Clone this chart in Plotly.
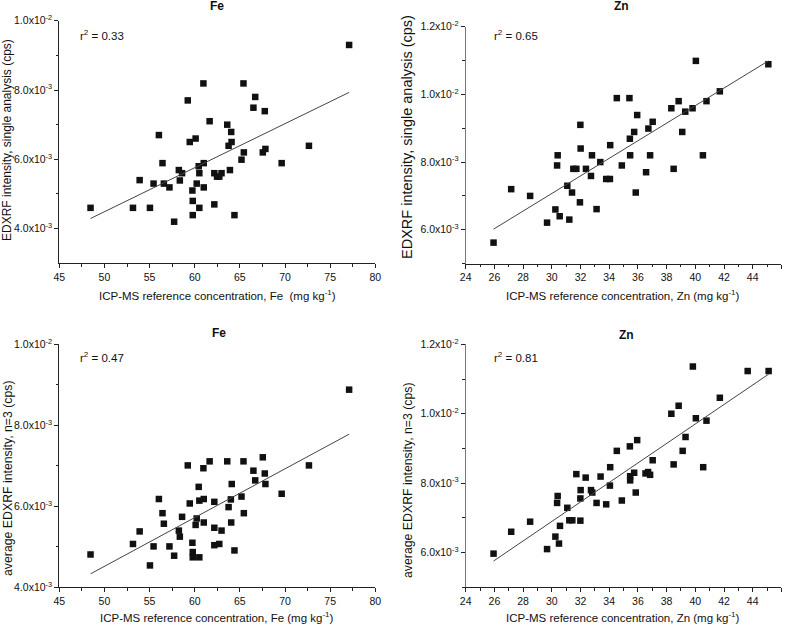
import numpy as np
import plotly.graph_objects as go

# ---------------- data (values in 1e-3 cps) ----------------
fe_x_single = [48.46, 53.16, 53.9, 55.04, 55.44, 56.03, 56.43, 56.58, 57.2, 57.72, 58.24, 58.35, 58.6,
               59.23, 59.45, 59.74, 59.78, 59.78, 60.1, 60.22, 60.44, 60.51, 60.51, 60.96, 61.0, 61.0,
               61.65, 62.17, 62.17, 62.47, 62.72, 62.97, 63.6, 63.75, 63.9, 64.04, 64.08, 64.4, 65.18,
               65.4, 65.44, 66.5, 66.7, 67.54, 67.76, 67.83, 69.63, 72.65, 77.1]
fe_y_single = [4.60, 4.60, 5.40, 4.60, 5.30, 6.70, 5.89, 5.30, 5.19, 4.20, 5.69, 5.39, 5.60,
               7.70, 6.50, 5.10, 4.80, 4.39, 6.60, 5.30, 5.80, 5.60, 4.60, 8.19, 5.89, 5.19,
               7.10, 4.70, 5.60, 5.50, 5.50, 5.60, 7.00, 6.39, 5.69, 6.79, 6.50, 4.39, 5.99,
               8.19, 6.20, 7.49, 7.80, 6.20, 7.39, 6.30, 5.89, 6.39, 9.30]

fe_x_avg = [48.46, 53.16, 53.9, 55.04, 55.44, 56.03, 56.43, 56.58, 57.2, 57.72, 58.24, 58.35, 58.6,
            59.23, 59.45, 59.74, 59.78, 59.78, 60.1, 60.22, 60.44, 60.51, 60.51, 60.96, 61.0, 61.0,
            61.65, 62.17, 62.17, 62.17, 62.72, 62.97, 63.6, 63.75, 64.0, 64.04, 64.1, 64.4, 65.18,
            65.4, 65.44, 66.5, 66.7, 67.54, 67.76, 67.83, 69.63, 72.65, 77.1]
fe_y_avg = [4.81, 5.07, 5.38, 4.54, 5.01, 6.18, 5.83, 5.57, 5.01, 4.78, 5.40, 5.25, 5.74,
            7.01, 6.07, 5.10, 4.87, 4.74, 5.54, 5.70, 6.48, 6.14, 4.74, 6.94, 6.18, 5.60,
            7.11, 5.47, 5.04, 6.11, 5.07, 5.40, 7.11, 5.98, 6.17, 5.60, 6.55, 4.91, 6.24,
            7.11, 5.83, 6.88, 6.64, 7.21, 6.81, 6.55, 6.31, 7.01, 8.88]

zn_x_single = [25.94, 27.17, 28.49, 29.67, 30.25, 30.37, 30.41, 30.55, 31.08, 31.22, 31.41, 31.5,
               31.71, 31.99, 32.01, 31.96, 32.38, 32.73, 32.8, 33.12, 33.38, 33.79, 34.05, 34.07,
               34.53, 34.88, 35.41, 35.44, 35.46, 35.74, 35.85, 35.95, 36.57, 36.73, 36.85, 37.03,
               38.33, 38.49, 38.84, 39.09, 39.3, 39.81, 40.04, 40.53, 40.78, 41.71, 43.65, 45.09]
zn_y_single = [5.62, 7.20, 7.00, 6.21, 6.60, 7.90, 8.20, 6.40, 7.30, 6.30, 7.10, 7.80,
               7.80, 9.10, 8.40, 6.81, 7.80, 7.59, 8.20, 6.61, 8.00, 7.50, 7.50, 8.50,
               9.89, 7.90, 9.89, 8.69, 8.20, 8.89, 7.10, 9.39, 7.70, 8.99, 8.20, 9.19,
               9.59, 7.80, 9.80, 8.89, 9.49, 9.59, 10.99, 8.20, 9.80, 10.09, 12.08, 10.89]

zn_x_avg = [25.94, 27.17, 28.49, 29.67, 30.25, 30.37, 30.41, 30.5, 30.57, 31.08, 31.22, 31.43,
            31.71, 31.99, 32.01, 31.99, 32.36, 32.73, 32.82, 33.12, 33.4, 33.79, 34.05, 34.07,
            34.53, 34.88, 35.44, 35.46, 35.46, 35.74, 35.85, 35.95, 36.53, 36.71, 36.85, 37.03,
            38.33, 38.49, 38.84, 39.12, 39.32, 39.83, 40.04, 40.55, 40.78, 41.71, 43.65, 45.11]
zn_y_avg = [5.97, 6.60, 6.89, 6.10, 6.46, 7.43, 7.63, 6.26, 6.77, 7.29, 6.93, 6.93,
            8.26, 6.92, 7.80, 7.56, 8.16, 7.80, 7.73, 7.43, 8.19, 7.39, 7.93, 8.46,
            8.93, 7.50, 9.06, 8.20, 8.08, 8.30, 7.73, 9.24, 8.28, 8.32, 8.24, 8.66,
            10.00, 8.54, 10.23, 8.93, 9.33, 11.36, 9.87, 8.46, 9.80, 10.46, 11.23, 11.23]

r2_labels = ["0.33", "0.65", "0.47", "0.81"]
panel_titles = ["Fe", "Zn", "Fe", "Zn"]
x_titles = ["ICP-MS reference concentration, Fe\u00a0 (mg kg<sup>-1</sup>)",
            "ICP-MS reference concentration, Zn (mg kg<sup>-1</sup>)",
            "ICP-MS reference concentration, Fe (mg kg<sup>-1</sup>)",
            "ICP-MS reference concentration, Zn (mg kg<sup>-1</sup>)"]
y_titles = ["EDXRF intensity, single analysis (cps)",
            "EDXRF intensity, single analysis (cps)",
            "average EDXRF intensity, n=3 (cps)",
            "average EDXRF intensity, n=3 (cps)"]

fe_xticks = [45, 50, 55, 60, 65, 70, 75, 80]
fe_xminor = [47.5, 52.5, 57.5, 62.5, 67.5, 72.5, 77.5]
zn_xticks = [24, 26, 28, 30, 32, 34, 36, 38, 40, 42, 44, 46]
zn_xminor = [25, 27, 29, 31, 33, 35, 37, 39, 41, 43, 45]
fe_yticks = [4.0e-3, 6.0e-3, 8.0e-3, 1.0e-2]
fe_yticktext = ["4.0x10<sup>-3</sup>", "6.0x10<sup>-3</sup>", "8.0x10<sup>-3</sup>", "1.0x10<sup>-2</sup>"]
fe_yminor = [5e-3, 7e-3, 9e-3]
zn_yticks = [6.0e-3, 8.0e-3, 1.0e-2, 1.2e-2]
zn_yticktext = ["6.0x10<sup>-3</sup>", "8.0x10<sup>-3</sup>", "1.0x10<sup>-2</sup>", "1.2x10<sup>-2</sup>"]
zn_yminor = [5e-3, 7e-3, 9e-3, 1.1e-2]

# ---------------- layout geometry (pixels in the 787x627 canvas) ----------------
W, H = 787, 627
FONT = "Arial, Liberation Sans, sans-serif"
AX = "#222222"
TXT = "#111111"

panels = [
    dict(x=fe_x_single, y=fe_y_single, px=(59.3, 375.3), py=(20.7, 263.3), xr=[45, 80], yr=[3e-3, 10e-3],
         xt=fe_xticks, xm=fe_xminor, yt=fe_yticks, ytt=fe_yticktext, ym=fe_yminor, ylc=AX,
         title_xy=(217, 6), xtitle_xy=(217, 295), ytitle_xy=(7, 140), ytitle_size=12, r2_xy=(78, 35)),
    dict(x=zn_x_single, y=zn_y_single, px=(465.7, 781.4), py=(26.7, 263.6), xr=[24, 46], yr=[5e-3, 12e-3],
         xt=zn_xticks, xm=zn_xminor, yt=zn_yticks, ytt=zn_yticktext, ym=zn_yminor, ylc="#777777",
         title_xy=(621, 6), xtitle_xy=(623, 295), ytitle_xy=(407, 137), ytitle_size=14.5, r2_xy=(491.7, 35)),
    dict(x=fe_x_avg, y=fe_y_avg, px=(59.3, 375.3), py=(344.3, 587.3), xr=[45, 80], yr=[4e-3, 10e-3],
         xt=fe_xticks, xm=fe_xminor, yt=fe_yticks, ytt=fe_yticktext, ym=fe_yminor, ylc=AX,
         title_xy=(219, 333), xtitle_xy=(217, 617), ytitle_xy=(8, 478), ytitle_size=12.3, r2_xy=(78, 357)),
    dict(x=zn_x_avg, y=zn_y_avg, px=(465.7, 781.4), py=(344.3, 587.3), xr=[24, 46], yr=[5e-3, 12e-3],
         xt=zn_xticks, xm=zn_xminor, yt=zn_yticks, ytt=zn_yticktext, ym=zn_yminor, ylc="#777777",
         title_xy=(626, 335), xtitle_xy=(623, 617), ytitle_xy=(408, 480), ytitle_size=12.3, r2_xy=(491.7, 357)),
]

fig = go.Figure()
annotations = []
layout_axes = {}


def pap(xy):
    return xy[0] / W, 1 - xy[1] / H


for i, p in enumerate(panels):
    n = i + 1
    xa = "x" if n == 1 else f"x{n}"
    ya = "y" if n == 1 else f"y{n}"
    xs = np.array(p["x"], dtype=float)
    ys = np.array(p["y"], dtype=float) * 1e-3

    fig.add_trace(go.Scatter(x=xs, y=ys, mode="markers", xaxis=xa, yaxis=ya, cliponaxis=False,
                             marker=dict(symbol="square", size=6.5, color="#111111", line=dict(width=0)),
                             showlegend=False, hoverinfo="x+y"))
    # least-squares fit line through the data
    slope, icpt = np.polyfit(xs, ys, 1)
    lx = np.array([xs.min(), xs.max()])
    fig.add_trace(go.Scatter(x=lx, y=slope * lx + icpt, mode="lines", xaxis=xa, yaxis=ya,
                             line=dict(color="#444444", width=1), showlegend=False, hoverinfo="skip"))

    xdom = [p["px"][0] / W, p["px"][1] / W]
    ydom = [1 - p["py"][1] / H, 1 - p["py"][0] / H]
    xkey = "xaxis" if n == 1 else f"xaxis{n}"
    ykey = "yaxis" if n == 1 else f"yaxis{n}"
    layout_axes[xkey] = dict(domain=xdom, range=p["xr"], anchor=ya, automargin=False,
                             showline=True, linecolor=AX, linewidth=1,
                             ticks="outside", ticklen=4, tickwidth=1, tickcolor=AX,
                             tickmode="array", tickvals=p["xt"], showgrid=False, zeroline=False,
                             tickfont=dict(family=FONT, size=10.5, color=TXT),
                             minor=dict(tickmode="array", tickvals=p["xm"], ticks="outside",
                                        ticklen=2.5, tickcolor=AX, showgrid=False),
                             fixedrange=True)
    layout_axes[ykey] = dict(domain=ydom, range=p["yr"], anchor=xa, automargin=False,
                             showline=True, linecolor=p["ylc"], linewidth=1.2,
                             ticks="outside", ticklen=4, tickwidth=1, tickcolor=AX,
                             tickmode="array", tickvals=p["yt"], ticktext=p["ytt"],
                             showgrid=False, zeroline=False,
                             tickfont=dict(family=FONT, size=10.5, color=TXT),
                             minor=dict(tickmode="array", tickvals=p["ym"], ticks="outside",
                                        ticklen=2.5, tickcolor=AX, showgrid=False),
                             fixedrange=True)

    tx, ty = pap(p["title_xy"])
    annotations.append(dict(text=f"<b>{panel_titles[i]}</b>", x=tx, y=ty, xref="paper", yref="paper",
                            xanchor="center", yanchor="middle", showarrow=False,
                            font=dict(family=FONT, size=12, color=TXT)))
    tx, ty = pap(p["xtitle_xy"])
    annotations.append(dict(text=x_titles[i], x=tx, y=ty, xref="paper", yref="paper",
                            xanchor="center", yanchor="middle", showarrow=False,
                            font=dict(family=FONT, size=11.5, color=TXT)))
    tx, ty = pap(p["ytitle_xy"])
    annotations.append(dict(text=y_titles[i], x=tx, y=ty, xref="paper", yref="paper",
                            xanchor="center", yanchor="middle", showarrow=False, textangle=-90,
                            font=dict(family=FONT, size=p["ytitle_size"], color=TXT)))
    tx, ty = pap(p["r2_xy"])
    annotations.append(dict(text=f"r<sup>2</sup> = {r2_labels[i]}", x=tx, y=ty, xref="paper", yref="paper",
                            xanchor="left", yanchor="middle", showarrow=False,
                            font=dict(family=FONT, size=11.5, color=TXT)))

fig.update_layout(template="none", width=W, height=H, margin=dict(l=0, r=0, t=0, b=0, pad=0),
                  paper_bgcolor="white", plot_bgcolor="white",
                  font=dict(family=FONT, size=11, color=TXT),
                  annotations=annotations, **layout_axes)

# remove the browser's default 8px page margin so the figure sits at the window origin
fig.write_html("out.html", config={"displayModeBar": False},
               post_script="document.body.style.margin='0';document.body.style.overflow='hidden';")
